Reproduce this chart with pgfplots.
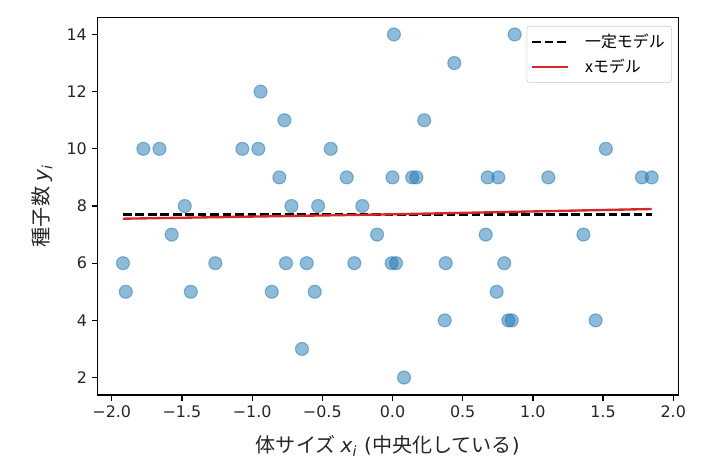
\documentclass[border=0pt]{standalone}
\usepackage{pgfplots}
\pgfplotsset{compat=1.18}
\usepackage{fontspec}
\setmainfont{DejaVu Sans}
\newfontfamily\jp{Noto Sans CJK JP}
\definecolor{c1}{HTML}{1F77B4}
\definecolor{tred}{HTML}{D62728}
\begin{document}
\begin{tikzpicture}
\begin{axis}[
  at={(0,0)}, anchor=south west,
  scale only axis, width=5.81in, height=3.777in,
  xmin=-2.103, xmax=2.036, ymin=1.39, ymax=14.6,
  xtick={-2,-1.5,-1,-0.5,0,0.5,1,1.5,2},
  xticklabels={−2.0,−1.5,−1.0,−0.5,0.0,0.5,1.0,1.5,2.0},
  ytick={2,4,6,8,10,12,14},
  yticklabels={2,4,6,8,10,12,14},
  xtick pos=bottom, ytick pos=left,
  tick align=outside, major tick length=4pt,
  every tick/.style={black, line width=0.9pt},
  axis line style={line width=0.9pt},
  tick label style={font=\fontsize{11.5}{13}\selectfont, text=black!85},
  xlabel={{\jp 体サイズ}\hspace{0.25em}\textit{x}\textsubscript{\textit{i}}\hspace{0.35em}({\jp 中央化している})},
  ylabel={{\jp 種子数}\hspace{0.25em}\textit{y}\textsubscript{\textit{i}}},
  label style={font=\fontsize{14.5}{16}\selectfont, text=black!85},
  xlabel style={at={(axis description cs:0.5,-0.136)}, anchor=center},
  ylabel style={at={(axis description cs:-0.0947,0.5)}, anchor=center},
  legend style={at={(0.989,0.977)}, anchor=north east, draw=black!20, rounded corners=2pt,
    fill=white, fill opacity=0.8, text opacity=1, font=\fontsize{11.5}{13}\selectfont,
    inner xsep=3pt, inner ysep=3.5pt, row sep=3pt},
  legend cell align=left,
  legend image code/.code={\draw[#1] (0cm,0cm) -- (0.36in,0cm); \path (0.49in,0cm);},
]
\addplot[only marks, mark=*, mark size=4.7pt, mark options={fill=c1, draw=c1, opacity=0.5, line width=0.8pt}, forget plot] table {
x y
0.01 14
0.87 14
0.44 13
-0.94 12
-0.77 11
0.226 11
-1.775 10
-1.66 10
-1.07 10
-0.956 10
-0.44 10
1.52 10
-0.806 9
-0.326 9
0.0 9
0.14 9
0.17 9
0.678 9
0.754 9
1.11 9
1.777 9
1.846 9
-1.48 8
-0.72 8
-0.53 8
-0.215 8
-1.573 7
-0.11 7
0.664 7
1.36 7
-1.92 6
-1.262 6
-0.759 6
-0.611 6
-0.272 6
-0.006 6
0.025 6
0.379 6
0.796 6
-1.90 5
-1.437 5
-0.86 5
-0.554 5
0.742 5
0.372 4
0.825 4
0.849 4
1.447 4
-0.645 3
0.082 2
};
\addplot[black, line width=1.7pt, dash pattern=on 6.3pt off 2.7pt] coordinates {(-1.92,7.7) (1.846,7.7)};
\addlegendentry{{\jp 一定モデル}\hspace{0.1in}}
\addplot[tred, line width=1.7pt] coordinates {(-1.92,7.556) (0,7.71) (1.846,7.895)};
\addlegendentry{{\jp xモデル}}
\end{axis}
\path[use as bounding box] (-0.973in,-0.71in) rectangle (6.187in,3.95in);
\end{tikzpicture}
\end{document}
